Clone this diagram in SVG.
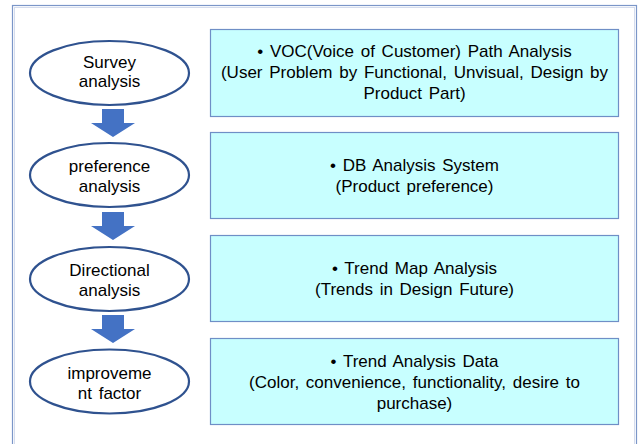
<svg xmlns="http://www.w3.org/2000/svg" width="641" height="444" viewBox="0 0 641 444">
<style>
.ell{fill:#ffffff;stroke:#2f528f;stroke-width:2.2}
.box{fill:#c8ffff;stroke:#6f8fc6;stroke-width:1.2}
.arr{fill:#4472c4}
text{font-family:"Liberation Sans",Arial,sans-serif;font-size:17px;word-spacing:2px;fill:#000;text-anchor:middle}
</style>
<rect x="0" y="0" width="641" height="444" fill="#ffffff"/>
<rect x="12.5" y="5.5" width="624" height="460" fill="none" stroke="#7b96c8" stroke-width="1.2"/>
<rect x="14.5" y="7.5" width="620" height="460" fill="none" stroke="#d5dced" stroke-width="1"/>
<g id="connectors">
<path class="arr" d="M102,109 H124 V123 H135 L113,137 L91,123 H102 Z"/>
<path class="arr" d="M102,212 H124 V226 H135 L113,240 L91,226 H102 Z"/>
<path class="arr" d="M102,315 H124 V329 H135 L113,343 L91,329 H102 Z"/>
</g>
<g id="survey">
<ellipse class="ell" cx="109.5" cy="73" rx="79.5" ry="32"/>
<text x="109.5" y="67.5">Survey</text>
<text x="109.5" y="87">analysis</text>
</g>
<g id="preference">
<ellipse class="ell" cx="109.5" cy="175" rx="79.5" ry="32"/>
<text x="109.5" y="171.5">preference</text>
<text x="109.5" y="191.5">analysis</text>
</g>
<g id="directional">
<ellipse class="ell" cx="109.5" cy="279" rx="79.5" ry="32"/>
<text x="109.5" y="275.5">Directional</text>
<text x="109.5" y="295.5">analysis</text>
</g>
<g id="improvement">
<ellipse class="ell" cx="109.5" cy="381.5" rx="79.5" ry="32"/>
<text x="109.5" y="378.5">improveme</text>
<text x="109.5" y="398.5">nt factor</text>
</g>
<g id="box1">
<rect class="box" x="210.5" y="29.5" width="408" height="87"/>
<text x="414.5" y="57">• VOC(Voice of Customer) Path Analysis</text>
<text x="414.5" y="78">(User Problem by Functional, Unvisual, Design by</text>
<text x="414.5" y="98.5">Product Part)</text>
</g>
<g id="box2">
<rect class="box" x="210.5" y="132.5" width="408" height="86"/>
<text x="414.5" y="171">• DB Analysis System</text>
<text x="414.5" y="192">(Product preference)</text>
</g>
<g id="box3">
<rect class="box" x="210.5" y="235.5" width="408" height="86"/>
<text x="414.5" y="274">• Trend Map Analysis</text>
<text x="414.5" y="295">(Trends in Design Future)</text>
</g>
<g id="box4">
<rect class="box" x="210.5" y="338.5" width="408" height="86"/>
<text x="414.5" y="367">• Trend Analysis Data</text>
<text x="414.5" y="388">(Color, convenience, functionality, desire to</text>
<text x="414.5" y="408.5">purchase)</text>
</g>
</svg>
